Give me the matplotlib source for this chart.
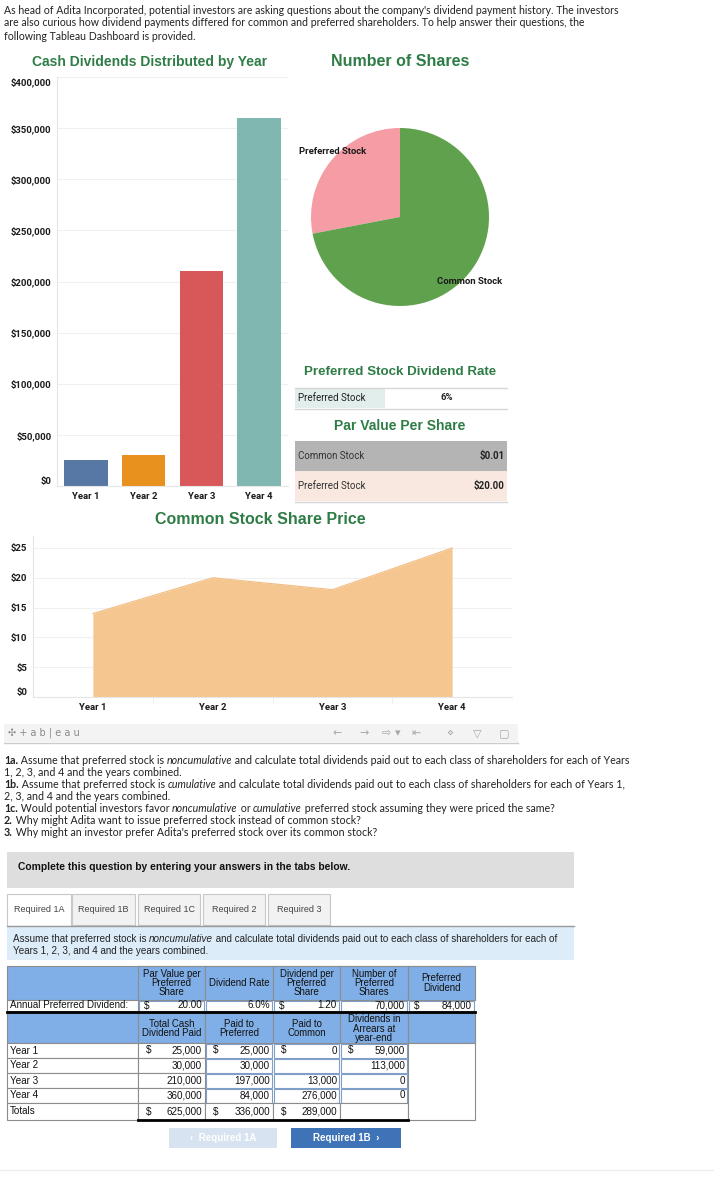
import matplotlib
matplotlib.use('Agg')
import matplotlib.pyplot as plt
from matplotlib import font_manager
from matplotlib.patches import Rectangle

# ---- data ----
years = ['Year 1', 'Year 2', 'Year 3', 'Year 4']
cash_dividends = [25000, 30000, 210000, 360000]
bar_colors = ['#5778a4', '#e8911e', '#d8585a', '#80b7b1']

share_classes = ['Preferred Stock', 'Common Stock']
shares = [70000, 180000]
pie_colors = ['#f69ca4', '#5fa14c']

share_price = [14, 20, 18, 25]

pref_rate = '6%'
par_names = ['Common Stock', 'Preferred Stock']
par_values = ['$0.01', '$20.00']

# answer table (Required 1A)
annual_head = ['Par Value per\nPreferred\nShare', 'Dividend Rate', 'Dividend per\nPreferred\nShare',
               'Number of\nPreferred\nShares', 'Preferred\nDividend']
annual_vals = ['20.00', '6.0%', '1.20', '70,000', '84,000']
annual_dollar = [True, False, True, False, True]
year_head = ['Total Cash\nDividend Paid', 'Paid to\nPreferred', 'Paid to\nCommon',
             'Dividends in\nArrears at\nyear-end']
paid_total = [25000, 30000, 210000, 360000]
paid_pref = [25000, 30000, 197000, 84000]
paid_common = [0, None, 13000, 276000]
arrears = [59000, 113000, 0, 0]

W, H = 714, 1182
names = {f.name for f in font_manager.fontManager.ttflist}
NARROW = 'Liberation Sans Narrow' if 'Liberation Sans Narrow' in names else 'Liberation Sans'
BODY = 'Lato'
TAB = 'Roboto' if 'Roboto' in names else 'DejaVu Sans'
GREEN = '#2f7d46'

fig = plt.figure(figsize=(W / 100, H / 100), dpi=100)
page = fig.add_axes([0, 0, 1, 1])
page.set_xlim(0, W)
page.set_ylim(H, 0)
page.axis('off')


def add_ax(l, t, r, b):
    return fig.add_axes([l / W, 1 - b / H, (r - l) / W, (b - t) / H])


def box(x0, y0, x1, y1, fc='white', ec='none', lw=0.8):
    page.add_patch(Rectangle((x0, y0), x1 - x0, y1 - y0, fc=fc, ec=ec, lw=lw))


def runs(x, y, parts, size=7.6, family=BODY, color='#222222'):
    prev = None
    for s, st in parts:
        kw = dict(fontsize=size, family=family, color=color)
        kw.update(st)
        if prev is None:
            prev = page.text(x, y, s, va='center', ha='left', **kw)
        else:
            prev = page.annotate(s, xy=(1, 0), xycoords=prev, va='bottom', ha='left', **kw)


B = {'fontweight': 'bold'}
I = {'fontstyle': 'italic'}
N = {}

# ---- intro text ----
intro = ["As head of Adita Incorporated, potential investors are asking questions about the company's dividend payment history. The investors",
         "are also curious how dividend payments differed for common and preferred shareholders. To help answer their questions, the",
         "following Tableau Dashboard is provided."]
for i, line in enumerate(intro):
    runs(4, 10 + 13 * i, [(line, N)])

# ---- titles ----
page.text(150, 62, 'Cash Dividends Distributed by Year', ha='center', va='center',
          fontsize=10, fontweight='bold', family=NARROW, color=GREEN)
page.text(400, 62, 'Number of Shares', ha='center', va='center',
          fontsize=11.5, fontweight='bold', family=NARROW, color=GREEN)

# ---- bar chart ----
ax = add_ax(57, 77, 288, 486)
ax.set_facecolor('none')
ax.bar(range(len(years)), cash_dividends, width=0.75, color=bar_colors, zorder=2)
ax.set_xlim(-0.5, 3.5)
ax.set_ylim(0, 400000)
yt = list(range(0, 400001, 50000))
ax.set_yticks(yt)
ax.set_yticklabels([f'${v:,}' for v in yt])
ax.set_xticks(range(len(years)))
ax.set_xticklabels(years)
ax.yaxis.grid(True, color='#f0f0f0', lw=0.8, zorder=0)
for s in ['top', 'right']:
    ax.spines[s].set_visible(False)
for s in ['left', 'bottom']:
    ax.spines[s].set_color('#e6e6e6')
ax.tick_params(length=0, labelsize=6.8, pad=4, colors='#1a1a1a')
for lab in ax.get_yticklabels() + ax.get_xticklabels():
    lab.set_fontweight('bold')
    lab.set_family(TAB)
ylabs = ax.get_yticklabels()
ylabs[0].set_va('bottom')
ylabs[-1].set_va('top')

# ---- pie ----
axp = add_ax(311, 128, 489, 306)
axp.pie(shares, colors=pie_colors, startangle=90, counterclock=True,
        wedgeprops=dict(linewidth=0))
axp.set_xlim(-1, 1)
axp.set_ylim(-1, 1)
axp.set_aspect('equal')
for nm, (lx, ly) in zip(share_classes, [(333, 152), (470, 282)]):
    fig.text(lx / W, 1 - ly / H, nm, ha='center', va='center', fontsize=6.8,
             fontweight='bold', family=TAB, color='#1a1a1a')

# ---- dividend rate / par value tables ----
page.text(400, 372, 'Preferred Stock Dividend Rate', ha='center', va='center',
          fontsize=9.6, fontweight='bold', family=NARROW, color=GREEN)
box(295, 388, 385, 408, fc='#e2eeeb')
page.plot([295, 507], [387.5, 387.5], color='#d6d6d6', lw=1)
page.plot([295, 507], [408.5, 408.5], color='#d6d6d6', lw=1)
page.text(298, 398, 'Preferred Stock', va='center', fontsize=7, family=TAB, color='#222222')
page.text(447, 398, pref_rate, ha='center', va='center', fontsize=6.8, family=TAB,
          fontweight='bold', color='#222222')

page.text(400, 426, 'Par Value Per Share', ha='center', va='center',
          fontsize=10, fontweight='bold', family=NARROW, color=GREEN)
box(295, 441, 507, 471, fc='#b4b4b4')
box(295, 471, 507, 501, fc='#f8e8e0')
page.plot([295, 507], [501.5, 501.5], color='#d6d6d6', lw=1)
for i, (nm, val) in enumerate(zip(par_names, par_values)):
    yc = 456 + 30 * i
    page.text(298, yc, nm, va='center', fontsize=7, family=TAB, color='#333333')
    page.text(505, yc, val, ha='right', va='center', fontsize=7, family=TAB,
              fontweight='bold', color='#222222')

# ---- area chart ----
page.text(260, 519, 'Common Stock Share Price', ha='center', va='center',
          fontsize=11.5, fontweight='bold', family=NARROW, color=GREEN)
axa = add_ax(33, 536, 512, 697)
axa.set_facecolor('none')
axa.fill_between(range(len(years)), share_price, color='#f6c690', lw=0, zorder=2)
axa.plot(range(len(years)), share_price, color='#f2bd83', lw=0.8, zorder=3)
axa.set_xlim(-0.5, 3.5)
axa.set_ylim(0, 27)
axa.set_yticks(range(0, 26, 5))
axa.set_yticklabels([f'${v}' for v in range(0, 26, 5)])
axa.set_xticks(range(len(years)))
axa.set_xticklabels(years)
axa.set_xticks([0.5, 1.5, 2.5], minor=True)
axa.yaxis.grid(True, color='#f0f0f0', lw=0.8, zorder=0)
for s in ['top', 'right']:
    axa.spines[s].set_visible(False)
for s in ['left', 'bottom']:
    axa.spines[s].set_color('#e6e6e6')
axa.tick_params(length=0, labelsize=6.8, pad=4, colors='#1a1a1a')
axa.tick_params(which='minor', length=5, color='#eeeeee', direction='out')
for lab in axa.get_yticklabels() + axa.get_xticklabels():
    lab.set_fontweight('bold')
    lab.set_family(TAB)
axa.get_yticklabels()[0].set_va('bottom')

# ---- tableau toolbar ----
box(4, 724, 518, 742, fc='#f3f3f3')
page.plot([4, 518], [742.5, 742.5], color='#cccccc', lw=1)
page.text(8, 733, '\u2723 + a b | e a u', va='center', fontsize=7, family='DejaVu Sans', color='#8a8a8a')
for xi, ch in zip([337, 364, 386, 398, 416, 450, 477, 504],
                  ['\u2190', '\u2192', '\u21e8', '\u25be', '\u21e4', '\u22c4', '\u25bd', '\u25a2']):
    page.text(xi, 733, ch, ha='center', va='center', fontsize=8, family='DejaVu Sans', color='#a8a8a8')

# ---- questions ----
q = [
    [('1a.', B), (' Assume that preferred stock is ', N), ('noncumulative', I),
     (' and calculate total dividends paid out to each class of shareholders for each of Years', N)],
    [('1, 2, 3, and 4 and the years combined.', N)],
    [('1b.', B), (' Assume that preferred stock is ', N), ('cumulative', I),
     (' and calculate total dividends paid out to each class of shareholders for each of Years 1,', N)],
    [('2, 3, and 4 and the years combined.', N)],
    [('1c.', B), (' Would potential investors favor ', N), ('noncumulative', I), (' or ', N),
     ('cumulative', I), (' preferred stock assuming they were priced the same?', N)],
    [('2.', B), (' Why might Adita want to issue preferred stock instead of common stock?', N)],
    [('3.', B), (" Why might an investor prefer Adita's preferred stock over its common stock?", N)],
]
for i, parts in enumerate(q):
    runs(4, 760 + 12 * i, parts, size=7.7)

# ---- grey prompt box and tabs ----
box(7, 852, 574, 888, fc='#dedede')
page.text(18, 867, 'Complete this question by entering your answers in the tabs below.',
          va='center', fontsize=7.4, fontweight='bold', family=NARROW, color='#111111')
tabs = ['Required 1A', 'Required 1B', 'Required 1C', 'Required 2', 'Required 3']
tab_x = [(7, 71), (72, 135), (138, 200), (203, 265), (268, 330)]
page.plot([7, 574], [925.5, 925.5], color='#9a9a9a', lw=1)
for i, (nm, (x0, x1)) in enumerate(zip(tabs, tab_x)):
    box(x0, 894, x1, 926 if i == 0 else 925, fc='white' if i == 0 else '#f2f2f2', ec='#c8c8c8')
    page.text((x0 + x1) / 2, 910, nm, ha='center', va='center', fontsize=6.5,
              family='Liberation Sans', color='#444444')
box(7.5, 926, 71, 927, fc='white')

box(7, 927, 574, 960, fc='#ddecf9')
runs(13, 939, [('Assume that preferred stock is ', N), ('noncumulative', I),
               (' and calculate total dividends paid out to each class of shareholders for each of', N)],
     size=7.1, family='Liberation Sans', color='#222222')
runs(13, 951, [('Years 1, 2, 3, and 4 and the years combined.', N)],
     size=7.1, family='Liberation Sans', color='#222222')

# ---- answer table ----
BLUE = '#80aee6'
GRID = '#8c8c8c'
INP = '#7f9fc8'
cols = [7, 138, 205, 273, 340, 408, 475]
fs = 7.1


def ctext(x, y, s, ha='center', size=fs, color='#111111'):
    page.text(x, y, s, ha=ha, va='center', fontsize=size, family=NARROW,
              color=color, linespacing=0.88)


# header 1
box(7, 966, 475, 1000, fc=BLUE, ec=GRID)
for i, h in enumerate(annual_head):
    box(cols[i + 1], 966, cols[i + 2], 1000, fc=BLUE, ec=GRID)
    ctext((cols[i + 1] + cols[i + 2]) / 2, 983, h, size=6.9)
# annual row
box(7, 1000, 138, 1011, fc='white', ec=GRID)
ctext(10, 1005.5, 'Annual Preferred Dividend:', ha='left')
for i, v in enumerate(annual_vals):
    x0, x1 = cols[i + 1], cols[i + 2]
    box(x0 + 1, 1000.5, x1 - 1, 1011, fc='white', ec=INP)
    if annual_dollar[i]:
        ctext(x0 + 6, 1005.5, '$', ha='left')
    ctext(x1 - 3, 1005.5, v, ha='right')
page.plot([7, 475], [1012, 1012], color='black', lw=2)
# header 2
box(7, 1013, 475, 1043, fc=BLUE, ec=GRID)
for i, h in enumerate(year_head):
    box(cols[i + 1], 1013, cols[i + 2], 1043, fc=BLUE, ec=GRID)
    ctext((cols[i + 1] + cols[i + 2]) / 2, 1028.5, h, size=6.9)
box(cols[5], 1013, cols[6], 1043, fc=BLUE, ec=GRID)

# body rows
row_tops = [1043, 1058, 1073, 1088, 1103]
row_bots = [1058, 1073, 1088, 1103, 1120]
body = [paid_total, paid_pref, paid_common, arrears]
totals = [sum(paid_total), sum(paid_pref), sum(v for v in paid_common if v is not None)]
labels = years + ['Totals']
for r, (t, b) in enumerate(zip(row_tops, row_bots)):
    yc = (t + b) / 2
    box(7, t, 138, b, fc='white', ec=GRID)
    ctext(10, yc, labels[r], ha='left')
    for c in range(4):
        x0, x1 = cols[c + 1], cols[c + 2]
        if r < 4:
            v = body[c][r]
            if c == 0:
                box(x0, t, x1, b, fc='white', ec=GRID)
            else:
                box(x0 + 1, t + 0.5, x1 - 1, b - 0.5, fc='white', ec=INP)
            if r == 0:
                ctext(x0 + 8, yc, '$', ha='left')
            if v is not None:
                ctext(x1 - 3, yc, f'{v:,}', ha='right')
        else:
            box(x0, t, x1, b, fc='white', ec=GRID)
            if c < 3:
                ctext(x0 + 8, yc, '$', ha='left')
                ctext(x1 - 3, yc, f'{totals[c]:,}', ha='right')
box(cols[5], 1043, cols[6], 1120, fc='white', ec=GRID)
page.plot([cols[1], cols[5]], [1120, 1120], color='black', lw=2)

# ---- navigation buttons ----
box(169, 1128, 277, 1148, fc='#d8e3f1')
page.text(223, 1138, '\u2039  Required 1A', ha='center', va='center', fontsize=7,
          family=NARROW, fontweight='bold', color='#ffffff')
box(291, 1128, 401, 1148, fc='#3e73b8')
page.text(346, 1138, 'Required 1B  \u203a', ha='center', va='center', fontsize=7,
          family=NARROW, fontweight='bold', color='#ffffff')
page.plot([0, W], [1170, 1170], color='#eeeeee', lw=1)

fig.savefig('out.png', dpi=100)
